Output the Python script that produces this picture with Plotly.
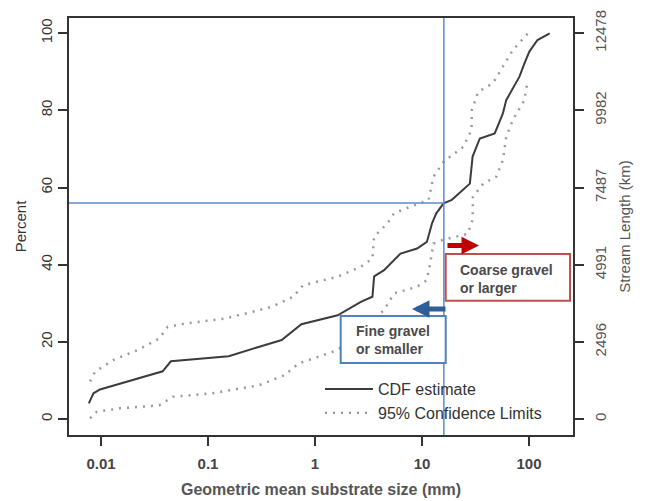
import plotly.graph_objects as go

# ---------------- data ----------------
cdf_size = [0.0077, 0.0085, 0.0098, 0.0377, 0.045, 0.156, 0.297, 0.488, 0.746, 1.63,
            2.68, 3.44, 3.57, 4.42, 6.3, 9.0, 11.1, 12.4, 13.6, 15.9, 19.0, 22.0, 28.0,
            29.7, 34.7, 47.8, 57.0, 61.2, 81.4, 90.4, 100.7, 120.0, 156.0]
cdf_pct = [4.1, 6.7, 7.7, 12.4, 15.0, 16.3, 18.7, 20.5, 24.6, 26.9,
           30.4, 31.7, 37.0, 38.6, 42.9, 44.2, 45.9, 50.7, 53.3, 55.9, 56.8, 58.3, 61.0,
           68.0, 72.7, 74.0, 79.2, 82.6, 88.7, 92.1, 95.2, 98.2, 99.9]

upper_size = [0.0079, 0.0088, 0.013, 0.022, 0.035, 0.042, 0.062, 0.146, 0.297, 0.394,
              0.625, 0.774, 1.63, 2.68, 3.44, 3.56, 4.74, 5.47, 8.4, 11.5, 12.8, 15.9,
              24.3, 29.0, 29.2, 33.5, 46.0, 57.0, 70.6, 97.3]
upper_pct = [9.8, 12.3, 15.3, 17.9, 20.9, 23.9, 24.8, 26.1, 28.2, 29.1,
             31.7, 34.7, 36.9, 39.5, 41.6, 47.2, 50.7, 53.3, 55.4, 56.7, 62.8, 66.7,
             70.5, 74.9, 80.0, 84.8, 87.0, 91.3, 95.6, 99.9]

lower_size = [0.0079, 0.0091, 0.015, 0.035, 0.047, 0.11, 0.30, 0.52, 0.70, 1.63,
              4.4, 5.5, 9.0, 11.1, 11.9, 12.8, 15.6, 26.7, 29.7, 29.9, 37.3, 49.4,
              57.0, 61.2, 70.6, 90.4, 97.3]
lower_pct = [0.2, 1.9, 2.8, 3.6, 5.8, 6.7, 8.8, 11.4, 14.4, 17.9,
             28.2, 32.6, 34.3, 36.0, 40.3, 45.5, 46.4, 48.0, 51.6, 57.6, 61.0, 62.8,
             67.1, 73.1, 77.5, 82.6, 87.8]

x_tick_vals = [0.01, 0.1, 1, 10, 100]
x_tick_text = ["0.01", "0.1", "1", "10", "100"]
pct_ticks = [0, 20, 40, 60, 80, 100]
km_ticks = ["0", "2496", "4991", "7487", "9982", "12478"]

threshold_mm = 16
threshold_pct = 56

# ---------------- figure ----------------
FONT = "Liberation Sans, Arial, sans-serif"
X_RANGE = [-2.299, 2.411]
Y_RANGE = [-4.1, 103.9]

fig = go.Figure()
fig.add_trace(go.Scatter(x=cdf_size, y=cdf_pct, mode="lines", name="CDF estimate",
                         line=dict(color="#3c3c3c", width=2), legendgroup="a"))
fig.add_trace(go.Scatter(x=upper_size, y=upper_pct, mode="lines", name="95% Confidence Limits",
                         line=dict(color="#9a9a9a", width=2.5, dash="2px,6px"), legendgroup="b"))
fig.add_trace(go.Scatter(x=lower_size, y=lower_pct, mode="lines", name="lower",
                         line=dict(color="#9a9a9a", width=2.5, dash="2px,6px"),
                         showlegend=False, legendgroup="b"))
fig.add_trace(go.Scatter(x=[None], y=[None], yaxis="y2", showlegend=False, hoverinfo="skip"))

blue = "#5b8dcc"
fig.add_shape(type="line", xref="x", yref="paper", x0=threshold_mm, x1=threshold_mm,
              y0=0, y1=1, line=dict(color=blue, width=1.5))
fig.add_shape(type="line", xref="x", yref="y", x0=10 ** X_RANGE[0], x1=threshold_mm,
              y0=threshold_pct, y1=threshold_pct, line=dict(color=blue, width=1.5))


def px(xp):
    return (xp - 69) / 504.0


def py(yp):
    return (435 - yp) / 417.0


# boxes
fig.add_shape(type="rect", xref="paper", yref="paper", x0=px(445.7), x1=px(570),
              y0=py(300.7), y1=py(254), line=dict(color="#c0504d", width=2),
              fillcolor="white", layer="above")
fig.add_shape(type="rect", xref="paper", yref="paper", x0=px(340.7), x1=px(445.7),
              y0=py(363), y1=py(316), line=dict(color="#4f81bd", width=2),
              fillcolor="white", layer="above")

box_font = dict(family=FONT, size=14, color="#4a4a4a", weight="bold")
fig.add_annotation(xref="paper", yref="paper", x=px(458), y=py(278.5), xanchor="left",
                   yanchor="middle", text="Coarse gravel<br>or larger", showarrow=False,
                   align="left", font=box_font)
fig.add_annotation(xref="paper", yref="paper", x=px(354), y=py(340), xanchor="left",
                   yanchor="middle", text="Fine gravel<br>or smaller", showarrow=False,
                   align="left", font=box_font)

# arrows
fig.add_annotation(xref="paper", yref="paper", x=px(479), y=py(245.5), ax=-33, ay=0,
                   text="", showarrow=True, arrowcolor="#c00000", arrowwidth=5,
                   arrowhead=2, arrowsize=0.7, standoff=0)
fig.add_annotation(xref="paper", yref="paper", x=px(412), y=py(309), ax=35, ay=0,
                   text="", showarrow=True, arrowcolor="#2f5f9a", arrowwidth=5,
                   arrowhead=2, arrowsize=0.7, standoff=0)

axis_common = dict(showgrid=False, zeroline=False, showline=True, linecolor="#333333",
                   linewidth=1.5, ticks="outside", ticklen=9, tickcolor="#333333",
                   tickwidth=1.5, automargin=False)

# the page body has an 8px margin, so the figure is shrunk by 8px and margins shifted
fig.update_layout(
    width=637, height=493,
    margin=dict(l=61, r=72, t=10, b=66, pad=0, autoexpand=False),
    paper_bgcolor="white", plot_bgcolor="white",
    font=dict(family=FONT, size=15, color="#333333"),
    xaxis=dict(type="log", range=X_RANGE, tickvals=x_tick_vals, ticktext=x_tick_text,
               mirror=True, ticklabelstandoff=5,
               tickfont=dict(family=FONT, size=15, color="#444444", weight="bold"),
               title=dict(text="Geometric mean substrate size (mm)", standoff=13,
                          font=dict(family=FONT, size=16, color="#555555", weight="bold")),
               **axis_common),
    yaxis=dict(range=Y_RANGE, tickvals=pct_ticks, tickangle=-90, mirror=True,
               tickfont=dict(size=15, color="#333333"),
               title=dict(text="Percent", font=dict(size=15, color="#333333"), standoff=8),
               **axis_common),
    yaxis2=dict(range=Y_RANGE, tickvals=pct_ticks, ticktext=km_ticks, tickangle=-90,
                overlaying="y", side="right", ticklabelstandoff=4,
                tickfont=dict(size=15, color="#555555"),
                title=dict(text="Stream Length (km)", font=dict(size=15, color="#555555"),
                           standoff=12),
                **axis_common),
    legend=dict(x=px(320), y=py(372), xanchor="left", yanchor="top",
                bgcolor="rgba(0,0,0,0)", font=dict(size=16, color="#333333"),
                tracegroupgap=0, itemwidth=48),
    showlegend=True,
)

fig.write_html("out.html")
